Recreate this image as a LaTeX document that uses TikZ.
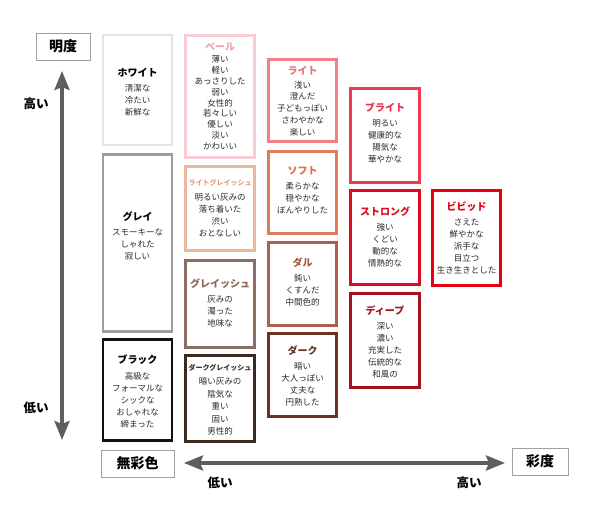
\documentclass[tikz,border=0pt]{standalone}
\usepackage{fontspec}
\setmainfont{Noto Sans CJK JP}
\usetikzlibrary{arrows.meta}
\definecolor{axisgray}{HTML}{5E5E5E}
\definecolor{lblgray}{HTML}{A0A0A0}
\definecolor{bodytxt}{HTML}{2A2A2A}
\definecolor{cWhite}{HTML}{E4E4E4}
\definecolor{cGray}{HTML}{9E9E9E}
\definecolor{cBlack}{HTML}{111111}
\definecolor{cPale}{HTML}{F9CBD2}
\definecolor{tPale}{HTML}{F4A1B1}
\definecolor{cLtg}{HTML}{EBB89F}
\definecolor{tLtg}{HTML}{E8A083}
\definecolor{cGry}{HTML}{8D6E63}
\definecolor{tGry}{HTML}{8A6658}
\definecolor{cDkg}{HTML}{3C2A21}
\definecolor{cLight}{HTML}{F07F88}
\definecolor{tLight}{HTML}{EE6E7A}
\definecolor{cSoft}{HTML}{DF7D5B}
\definecolor{tSoft}{HTML}{DD6E48}
\definecolor{cDull}{HTML}{AD6149}
\definecolor{tDull}{HTML}{A9583D}
\definecolor{cDark}{HTML}{6B3320}
\definecolor{cBright}{HTML}{EE3B52}
\definecolor{tBright}{HTML}{EA3049}
\definecolor{cStrong}{HTML}{DC0D1E}
\definecolor{cDeep}{HTML}{A3131D}
\definecolor{cVivid}{HTML}{E60012}
\begin{document}
\begin{tikzpicture}[x=1pt,y=-1pt,
  cbox/.style={draw, line width=2.6pt, inner sep=0pt, fill=white},
  lbl/.style={draw=lblgray, line width=0.8pt, inner sep=0pt, font=\fontsize{14}{16}\selectfont\bfseries, text=black},
  axlbl/.style={font=\fontsize{12.5}{14}\selectfont\bfseries, text=black},
  txt/.style={align=center, text=bodytxt, font=\fontsize{8.5}{12}\selectfont, inner sep=0pt},
  ttl/.style={font=\fontsize{10}{12}\selectfont\bfseries},
  axis/.style={draw=axisgray, line width=3.6pt, {Stealth[length=19pt,width=15pt,inset=3pt]}-{Stealth[length=19pt,width=15pt,inset=3pt]}}
]
\useasboundingbox[fill=white] (0,0) rectangle (590,524);

% axes
\coordinate (vtop) at (62,71);
\coordinate (vbot) at (62,440);
\draw[axis] (vbot) -- (vtop);
\coordinate (hl) at (184,463);
\coordinate (hr) at (505,463);
\draw[axis] (hl) -- (hr);

\node[lbl, minimum width=54pt, minimum height=27pt] (meido) at (63,46.5) {明度};
\node[lbl, minimum width=73pt, minimum height=27pt] (musai) at (137.5,463.5) {無彩色};
\node[lbl, minimum width=56pt, minimum height=27pt] (saido) at (540,461.5) {彩度};
\node[axlbl] (vhigh) at (36,104) {高い};
\node[axlbl] (vlow) at (36,408) {低い};
\node[axlbl] (hlow) at (220,483) {低い};
\node[axlbl] (hhigh) at (469,483) {高い};

% column 1
\node[cbox, draw=cWhite, minimum width=69pt, minimum height=110pt] (white) at (137.5,90) {};
\node[txt] (white-t) at (137.5,92) {{\color{black}\fontsize{10}{12}\selectfont\bfseries ホワイト}\\[3pt]清潔な\\冷たい\\新鮮な};
\node[cbox, draw=cGray, minimum width=69pt, minimum height=177pt] (gray) at (137.5,243) {};
\node[txt] (gray-t) at (137.5,236) {{\color{black}\fontsize{10}{12}\selectfont\bfseries グレイ}\\[3pt]スモーキーな\\しゃれた\\寂しい};
\node[cbox, draw=cBlack, minimum width=69pt, minimum height=101pt] (black) at (137.5,390) {};
\node[txt] (black-t) at (137.5,391) {{\color{black}\fontsize{10}{12}\selectfont\bfseries ブラック}\\[4pt]高級な\\フォーマルな\\シックな\\おしゃれな\\締まった};

% column 2
\node[cbox, draw=cPale, minimum width=69pt, minimum height=122pt] (pale) at (220,96.5) {};
\node[txt, font=\fontsize{8.5}{10.8}\selectfont] (pale-t) at (220,96) {{\color{tPale}\fontsize{10}{12}\selectfont\bfseries ペール}\\[2pt]薄い\\軽い\\あっさりした\\弱い\\女性的\\若々しい\\優しい\\淡い\\かわいい};
\node[cbox, draw=cLtg, minimum width=69pt, minimum height=84pt] (ltg) at (220,208.5) {};
\node[txt] (ltg-t) at (220,208) {{\color{tLtg}\fontsize{7}{9}\selectfont\bfseries ライトグレイッシュ}\\[3pt]明るい灰みの\\落ち着いた\\渋い\\おとなしい};
\node[cbox, draw=cGry, minimum width=69pt, minimum height=87pt] (gry) at (220,304) {};
\node[txt] (gry-t) at (220,303) {{\color{tGry}\fontsize{10}{12}\selectfont\bfseries グレイッシュ}\\[3pt]灰みの\\濁った\\地味な};
\node[cbox, draw=cDkg, minimum width=69pt, minimum height=86pt] (dkg) at (220,398.5) {};
\node[txt, font=\fontsize{8.5}{12.5}\selectfont] (dkg-t) at (220,400) {{\color{cDkg}\fontsize{7}{9}\selectfont\bfseries ダークグレイッシュ}\\[2pt]暗い灰みの\\陰気な\\重い\\固い\\男性的};

% column 3
\node[cbox, draw=cLight, minimum width=68pt, minimum height=82pt] (light) at (302.5,100.5) {};
\node[txt, font=\fontsize{8.5}{11.7}\selectfont] (light-t) at (302.5,101) {{\color{tLight}\fontsize{10}{12}\selectfont\bfseries ライト}\\[2pt]浅い\\澄んだ\\子どもっぽい\\さわやかな\\楽しい};
\node[cbox, draw=cSoft, minimum width=68pt, minimum height=82pt] (soft) at (302.5,192.5) {};
\node[txt] (soft-t) at (302.5,190) {{\color{tSoft}\fontsize{10}{12}\selectfont\bfseries ソフト}\\[3pt]柔らかな\\穏やかな\\ぼんやりした};
\node[cbox, draw=cDull, minimum width=68pt, minimum height=83pt] (dull) at (302.5,284) {};
\node[txt] (dull-t) at (302.5,282) {{\color{tDull}\fontsize{10}{12}\selectfont\bfseries ダル}\\[3pt]鈍い\\くすんだ\\中間色的};
\node[cbox, draw=cDark, minimum width=68pt, minimum height=83pt] (dark) at (302.5,375) {};
\node[txt] (dark-t) at (302.5,376) {{\color{cDark}\fontsize{10}{12}\selectfont\bfseries ダーク}\\[3pt]暗い\\大人っぽい\\丈夫な\\円熟した};

% column 4
\node[cbox, draw=cBright, minimum width=69pt, minimum height=94pt] (bright) at (385,135.5) {};
\node[txt] (bright-t) at (385,133) {{\color{tBright}\fontsize{10}{12}\selectfont\bfseries ブライト}\\[3pt]明るい\\健康的な\\陽気な\\華やかな};
\node[cbox, draw=cStrong, minimum width=69pt, minimum height=94pt] (strong) at (385,237.5) {};
\node[txt] (strong-t) at (385,237) {{\color{cStrong}\fontsize{10}{12}\selectfont\bfseries ストロング}\\[3pt]強い\\くどい\\動的な\\情熱的な};
\node[cbox, draw=cDeep, minimum width=69pt, minimum height=94pt] (deep) at (385,340.5) {};
\node[txt] (deep-t) at (385,342) {{\color{cDeep}\fontsize{10}{12}\selectfont\bfseries ディープ}\\[3pt]深い\\濃い\\充実した\\伝統的な\\和風の};

% column 5
\node[cbox, draw=cVivid, minimum width=68pt, minimum height=95pt] (vivid) at (466.5,238) {};
\node[txt] (vivid-t) at (466.5,238) {{\color{cVivid}\fontsize{10}{12}\selectfont\bfseries ビビッド}\\[3pt]さえた\\鮮やかな\\派手な\\目立つ\\生き生きとした};
\end{tikzpicture}
\end{document}
